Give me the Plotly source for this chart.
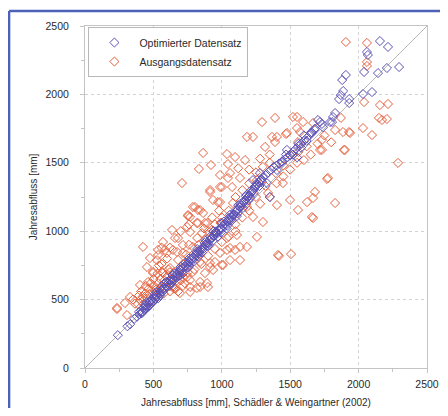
import plotly.graph_objects as go

# Optimierter Datensatz (x = Schädler & Weingartner, y = Jahresabfluss)
blue_points = [
    (240, 240), (310, 305), (330, 320), (360, 360), (380, 375), (400, 395), (410, 420), (420, 410),
    (430, 440), (440, 430), (450, 455), (460, 450), (470, 480), (480, 470), (490, 500), (500, 490),
    (505, 520), (515, 505), (520, 530), (530, 525), (540, 550), (550, 545), (560, 570), (570, 560),
    (580, 590), (590, 600), (600, 595), (610, 625), (620, 615), (630, 640), (640, 650), (650, 645),
    (660, 670), (670, 690), (680, 680), (690, 700), (700, 715), (710, 705), (720, 735), (730, 745),
    (740, 740), (750, 765), (760, 775), (770, 770), (780, 800), (790, 810), (800, 805), (810, 830),
    (820, 840), (830, 835), (840, 860), (850, 870), (860, 880), (870, 875), (880, 900), (890, 915),
    (900, 910), (910, 935), (920, 945), (930, 950), (940, 965), (950, 975), (960, 990), (970, 985),
    (980, 1005), (990, 1020), (1000, 1015), (1010, 1040), (1020, 1050), (1030, 1045), (1040, 1070),
    (1050, 1085), (1060, 1080), (1070, 1100), (1080, 1115), (1090, 1120), (1100, 1140), (1110, 1150),
    (1120, 1160), (1130, 1175), (1140, 1185), (1150, 1200), (1160, 1210), (1170, 1230), (1180, 1235),
    (1190, 1250), (1200, 1260), (1210, 1275), (1220, 1290), (1230, 1300), (1240, 1320), (1250, 1330),
    (1260, 1340), (1270, 1355), (1280, 1370), (1290, 1380), (1300, 1395), (1320, 1410), (1340, 1430),
    (1360, 1450), (1380, 1470), (1400, 1480), (1420, 1495), (1440, 1510), (1460, 1525), (1480, 1540),
    (1500, 1555), (1520, 1580), (1540, 1600), (1560, 1620), (1580, 1640), (1600, 1660), (1620, 1680),
    (1640, 1700), (1660, 1720), (1680, 1740),
    (450, 480), (520, 555), (580, 620), (640, 680), (700, 740), (760, 800), (820, 870), (880, 930),
    (940, 1000), (1000, 1060), (1060, 1120), (1120, 1190), (1180, 1265), (470, 455), (550, 530),
    (620, 600), (690, 675), (760, 745), (830, 815), (900, 890), (970, 960), (1040, 1040), (1110, 1110),
    (395, 410), (415, 400), (435, 455), (455, 440), (475, 495), (495, 480), (510, 540), (535, 510),
    (555, 585), (575, 575), (595, 630), (615, 640), (635, 625), (655, 690), (675, 665), (695, 720),
    (715, 690), (735, 770), (755, 735), (775, 790), (795, 780), (815, 850), (835, 850), (855, 845),
    (875, 915), (895, 895), (915, 960), (935, 930), (955, 995), (975, 1010), (995, 990), (1015, 1070),
    (1035, 1020), (1055, 1100), (1075, 1080), (1095, 1145), (1115, 1130), (1135, 1200), (1155, 1170),
    (1175, 1255), (1195, 1225), (1215, 1300), (1235, 1280), (1255, 1350), (1275, 1330),
    (1206, 1243), (1133, 1177), (1082, 1118), (1352, 1250), (1330, 1352), (1243, 1323), (1228, 1374),
    (1279, 1425), (1403, 1447), (1440, 1499), (1294, 1360), (1476, 1594), (1469, 1560), (1520, 1560),
    (1550, 1540), (1600, 1700), (1620, 1660), (1560, 1640), (1580, 1610), (1650, 1720), (1680, 1750),
    (1740, 1760), (1703, 1813), (1732, 1784), (1791, 1798), (1718, 1798), (1806, 1798), (1813, 1835),
    (1828, 1864), (1857, 1966), (1870, 1995), (1887, 2025), (1880, 2105), (1907, 2142), (1931, 1966),
    (1931, 1937), (2032, 2003), (2098, 2017), (2040, 2164), (2142, 2156), (2207, 2193), (2296, 2200),
    (2061, 2310), (2068, 2288), (2156, 2390), (2215, 2347),
]

# Ausgangsdatensatz
orange_points = [
    (234, 439), (292, 475), (307, 387), (329, 519), (350, 500), (365, 470), (387, 468), (395, 530),
    (405, 495), (410, 560), (420, 520), (430, 470), (440, 545), (445, 600), (455, 510), (465, 580),
    (470, 540), (480, 620), (490, 490), (495, 560), (500, 650), (505, 600), (515, 530), (520, 575),
    (530, 690), (535, 620), (545, 560), (550, 650), (560, 600), (565, 700), (575, 545), (580, 640),
    (590, 680), (600, 590), (610, 720), (620, 560), (630, 650), (640, 600), (650, 700), (660, 580),
    (670, 640), (680, 560), (694, 548), (700, 680), (716, 600), (730, 620), (746, 665), (768, 556),
    (768, 592), (789, 702), (818, 585), (841, 592), (841, 629), (877, 694), (892, 621), (899, 592),
    (936, 716), (950, 775), (1009, 753), (987, 841), (1038, 863), (1133, 789), (1411, 826), (1060, 789),
    (1001, 753), (914, 738), (841, 775), (621, 731), (497, 702), (526, 789), (585, 863), (673, 848),
    (570, 921), (658, 950), (716, 899), (768, 994), (855, 987), (928, 1009), (636, 1009), (818, 1060),
    (877, 1060), (753, 1111), (841, 1155), (863, 1133), (789, 1177), (987, 1213), (914, 1287),
    (1001, 1323), (709, 1352), (1097, 863), (1038, 950), (1111, 972), (234, 431), (497, 694), (570, 694),
    (461, 629), (402, 607), (694, 731), (716, 665), (768, 643), (475, 804), (534, 826), (599, 841),
    (424, 885), (453, 738), (534, 863), (643, 863), (716, 841), (789, 885), (914, 767), (841, 826),
    (1060, 877), (1133, 885), (1184, 885), (1257, 958), (1418, 819), (1506, 833),
    (863, 1572), (1038, 1564), (921, 1484), (833, 1455), (1045, 1491), (1097, 1542), (1170, 1520),
    (987, 1411), (1060, 1425), (1133, 1389), (914, 1301), (987, 1323), (936, 1228), (826, 1155),
    (804, 1177), (768, 1104), (746, 1031), (826, 1060), (892, 1060), (1082, 1206), (1184, 1177),
    (1228, 1104), (1301, 1067), (1403, 1191), (1499, 1228), (1557, 1155), (1667, 1243), (1659, 1104),
    (1769, 1382), (1828, 1206), (1893, 1594), (1718, 1594), (1447, 1352), (1338, 1279), (1257, 1374),
    (1045, 1389), (1075, 1323), (753, 1118), (972, 1213), (1623, 1213), (1681, 1287), (1667, 1096),
    (1776, 1389), (1732, 1594), (2288, 1499), (2171, 1813),
    (1294, 1798), (1389, 1828), (1520, 1835), (1550, 1835), (1594, 1798), (1476, 1718), (1550, 1754),
    (1367, 1689), (1389, 1652), (1316, 1616), (1667, 1791), (1828, 1740), (1886, 1725), (1930, 1725),
    (1900, 1594), (1732, 1667), (1572, 1725), (1557, 1652), (1228, 1689), (1184, 1689), (1403, 1689),
    (1469, 1711), (1871, 1828), (2032, 1754), (2098, 1703), (2149, 1828), (2207, 1820), (2040, 1944),
    (2156, 1922), (2215, 1930), (1907, 2383), (2061, 2376), (2061, 2237), (2061, 2208), (1937, 1718),
    (1100, 1250), (1150, 1300), (1200, 1350), (1250, 1430), (1300, 1470), (1350, 1500), (1180, 1200),
    (1250, 1250), (1320, 1330), (1400, 1420), (1450, 1480), (1500, 1560), (1200, 1450), (1280, 1530),
    (1350, 1560), (1120, 1460), (1000, 1100), (1050, 1150), (950, 1050), (900, 1000), (980, 1150),
    (1100, 1050), (1150, 1100), (1200, 1150), (1280, 1200), (1350, 1250), (1400, 1350), (1450, 1400),
    (1500, 1450), (1550, 1500), (1600, 1520), (1650, 1560), (1700, 1640), (1750, 1700), (1800, 1650),
    (1620, 1620), (1560, 1580),
    (650, 580), (700, 640), (750, 700), (800, 720), (850, 760), (900, 820), (950, 870), (1000, 920),
    (1050, 960), (1100, 1000), (720, 760), (780, 820), (830, 900), (880, 940), (940, 1000), (990, 1060),
    (620, 700), (560, 760), (600, 800), (680, 790), (740, 830), (760, 900), (820, 950), (870, 1020),
    (930, 1100), (680, 950), (620, 880), (700, 1000), (760, 1050), (560, 880), (540, 750),
]

diag_line = [0, 2500]
tick_vals = [0, 500, 1000, 1500, 2000, 2500]
x_title = "Jahresabfluss [mm], Schädler & Weingartner (2002)"
y_title = "Jahresabfluss [mm]"

bx = [p[0] for p in blue_points]
by = [p[1] for p in blue_points]
ox = [p[0] for p in orange_points]
oy = [p[1] for p in orange_points]

BLUE = "#5a50b4"
ORANGE = "#e5603c"
FONT = "Liberation Sans, Arial, sans-serif"
TXT = "#2a2a2a"
FRAME = "#4c62b8"

fig = go.Figure()
fig.add_trace(go.Scatter(x=diag_line, y=diag_line, mode="lines",
                         line=dict(color="#b8b8b8", width=1), showlegend=False, hoverinfo="skip"))
fig.add_trace(go.Scatter(x=ox, y=oy, mode="markers", name="Ausgangsdatensatz", legendrank=2,
                         marker=dict(symbol="diamond-open", size=7, color=ORANGE, line=dict(width=1, color=ORANGE))))
fig.add_trace(go.Scatter(x=bx, y=by, mode="markers", name="Optimierter Datensatz", legendrank=1,
                         marker=dict(symbol="diamond-open", size=7, color=BLUE, line=dict(width=1, color=BLUE))))

axis_common = dict(
    range=[0, 2500], tickvals=tick_vals, showgrid=True, gridcolor="#d2d2d2", griddash="dot", gridwidth=1,
    zeroline=False, showline=True, linecolor="#c4c4c4", linewidth=1, mirror=True,
    ticks="outside", ticklen=4, tickcolor="#c4c4c4",
    minor=dict(dtick=250, ticks="outside", ticklen=3, tickcolor="#c4c4c4", showgrid=False),
    tickfont=dict(family=FONT, size=10.5, color=TXT),
)
fig.update_xaxes(**axis_common, ticklabelstandoff=2,
                 title=dict(text=x_title, font=dict(family=FONT, size=10, color=TXT), standoff=12))
fig.update_yaxes(**axis_common, ticklabelstandoff=9,
                 title=dict(text=y_title, font=dict(family=FONT, size=10, color=TXT), standoff=6))

# page body has an 8px margin: figure origin sits at (8, 8) in the window;
# keep the figure small enough that no scrollbars appear
fig.update_layout(
    width=432, height=400,
    margin=dict(l=77, r=13, t=18, b=40, autoexpand=False),
    paper_bgcolor="white", plot_bgcolor="white",
    legend=dict(x=0.01, y=0.997, xanchor="left", yanchor="top", bgcolor="white",
                bordercolor="#b8b8b8", borderwidth=1, font=dict(family=FONT, size=10.5, color=TXT),
                itemwidth=40, tracegroupgap=4),
    shapes=[
        dict(type="line", xref="paper", yref="paper", x0=-0.222, y0=-0.2, x1=-0.222, y1=1.044,
             line=dict(color=FRAME, width=2.5), layer="below"),
        dict(type="line", xref="paper", yref="paper", x0=-0.222, y0=1.044, x1=1.2, y1=1.044,
             line=dict(color=FRAME, width=2.5), layer="below"),
    ],
)

fig.write_html("out.html")
